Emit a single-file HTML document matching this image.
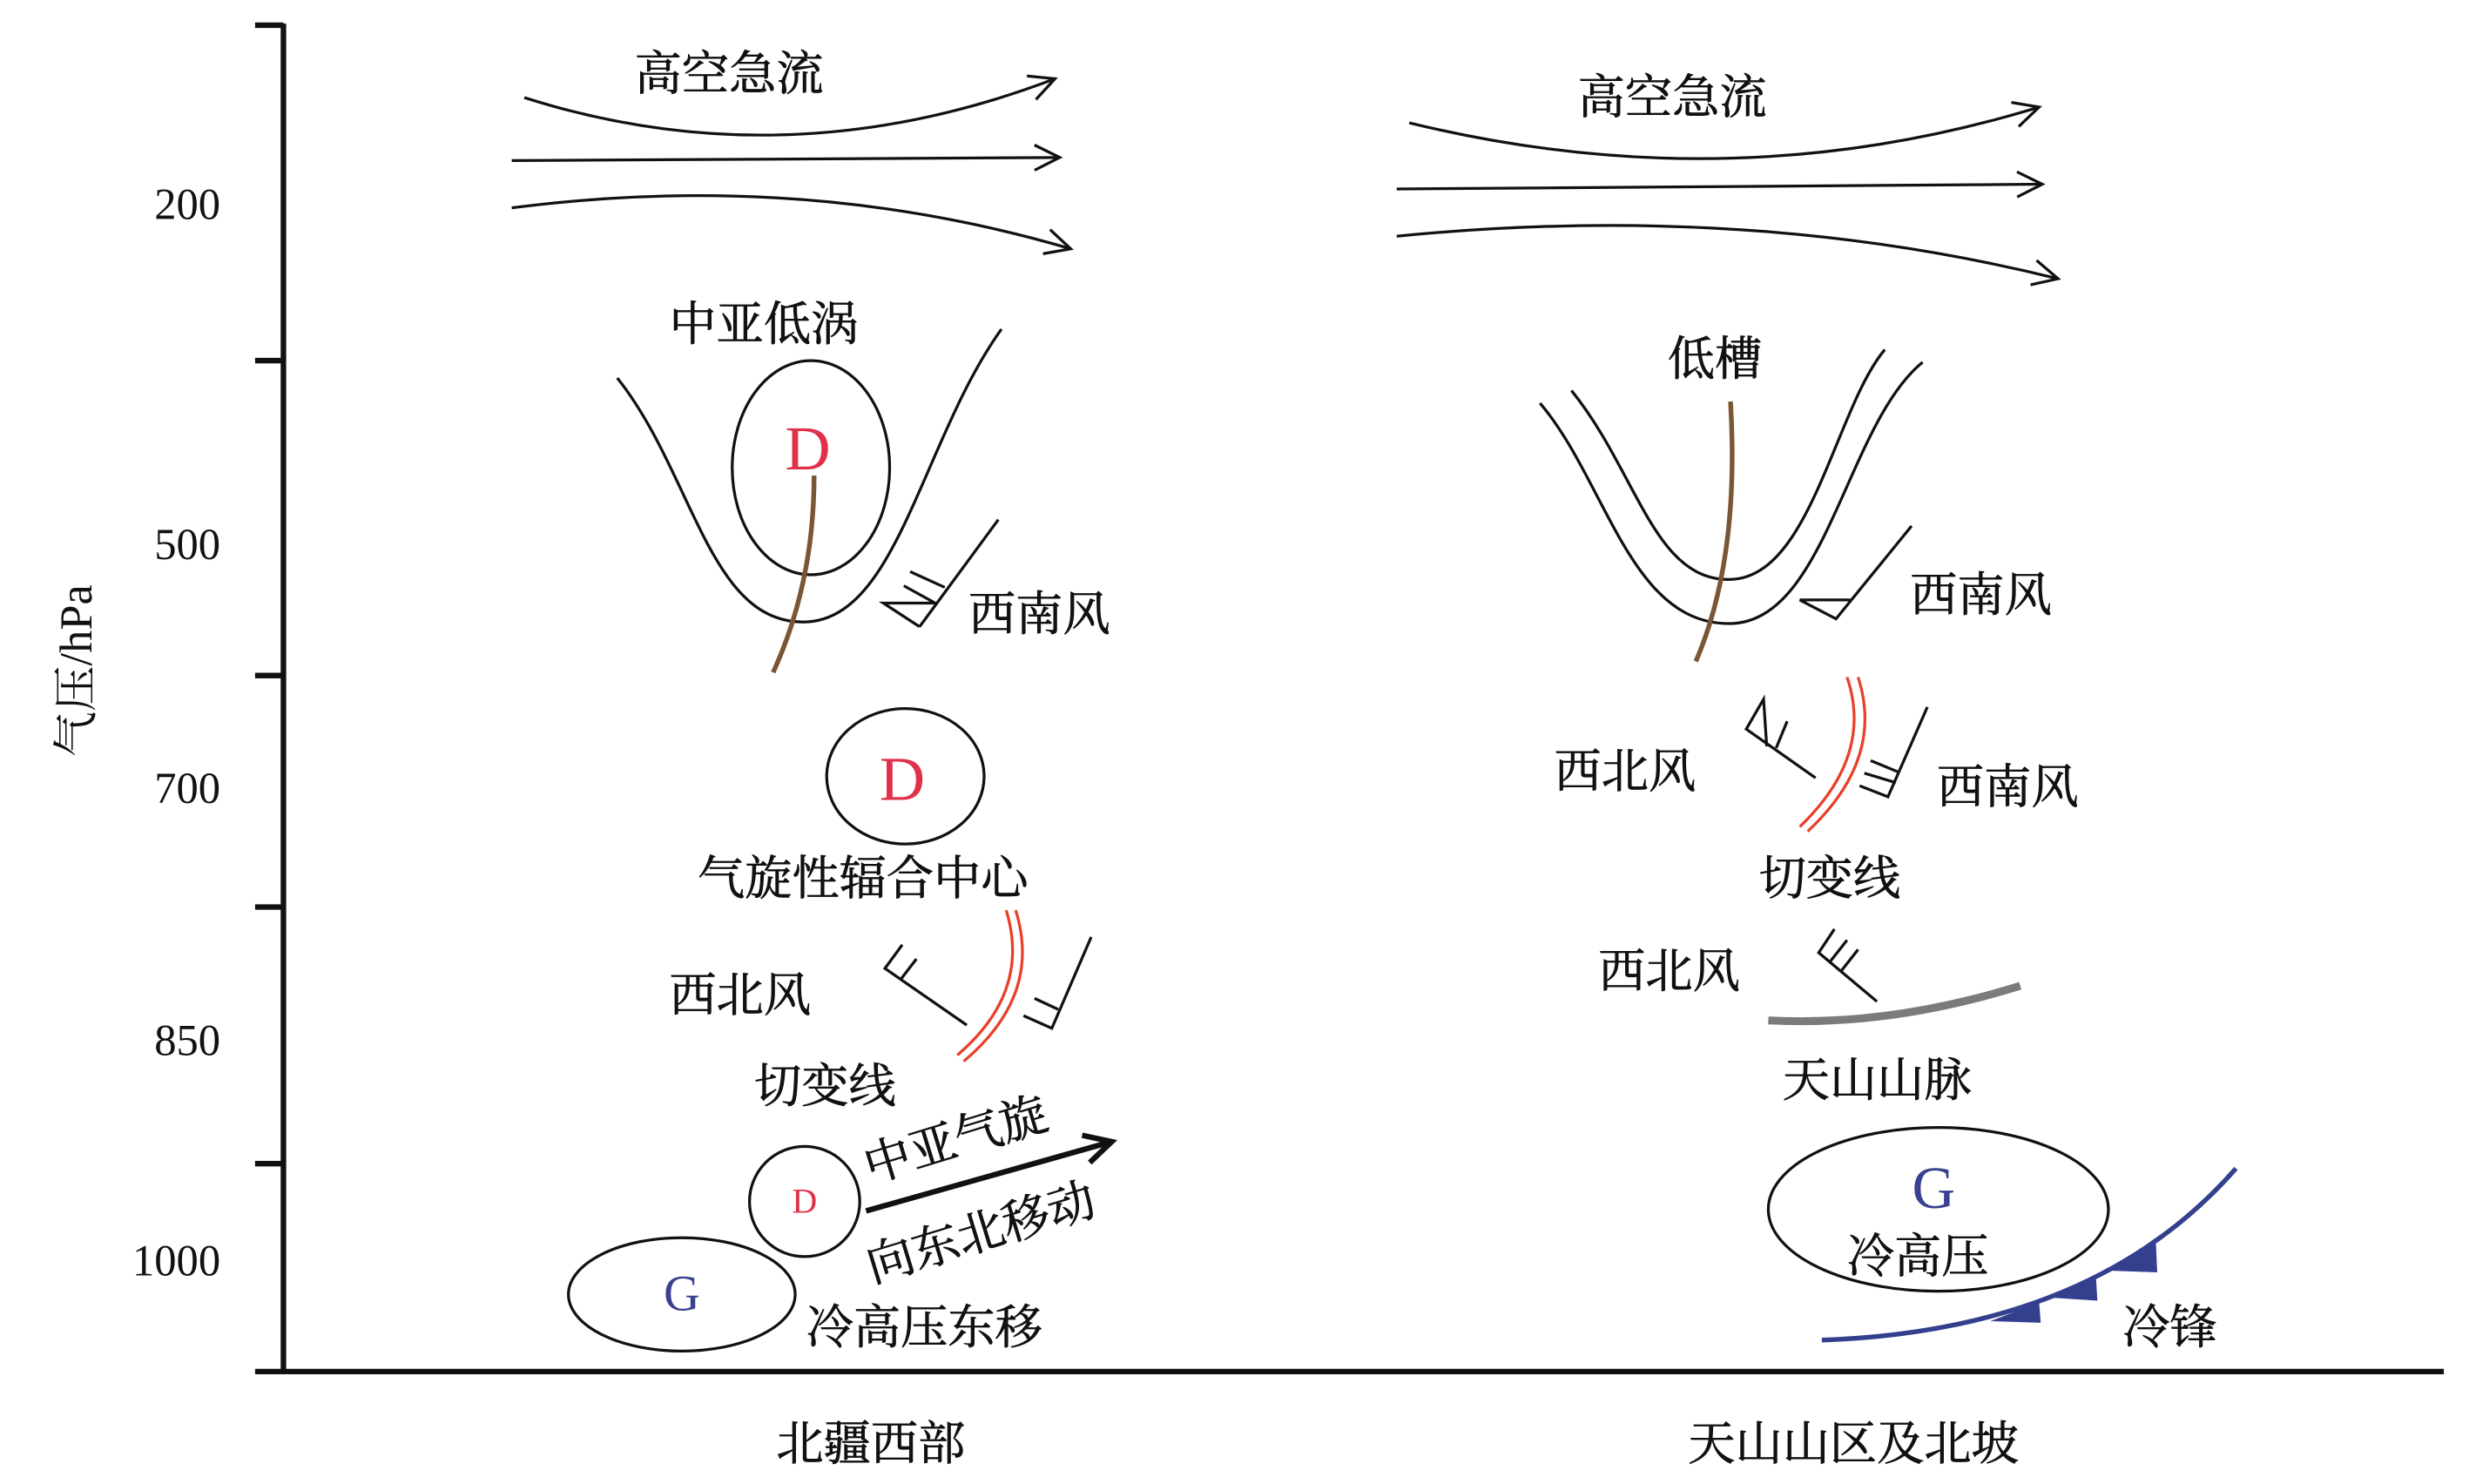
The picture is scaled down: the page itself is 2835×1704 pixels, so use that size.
<!DOCTYPE html>
<html><head><meta charset="utf-8"><style>
html,body{margin:0;padding:0;background:#fff;}
svg{display:block;}
text{font-family:"Liberation Serif","Noto Serif CJK SC","Noto Sans CJK SC",serif;fill:#111;}
.cn{font-size:30px;text-anchor:middle;stroke:#111;stroke-width:0.4;}
.num{font-size:28px;text-anchor:end;}
</style></head><body>
<svg width="2835" height="1704" viewBox="0 0 1568 942.4" preserveAspectRatio="none" xmlns="http://www.w3.org/2000/svg">
<defs>
<marker id="ah" markerWidth="20" markerHeight="20" refX="18" refY="10" orient="auto" markerUnits="userSpaceOnUse">
<path d="M2,2 L18,10 L2,18" fill="none" stroke="#111" stroke-width="1.8"/>
</marker>
<marker id="ah2" markerWidth="24" markerHeight="24" refX="20" refY="12" orient="auto" markerUnits="userSpaceOnUse">
<path d="M3,3 L20,12 L3,21" fill="none" stroke="#111" stroke-width="3.5"/>
</marker>
</defs>
<g stroke="#111" stroke-width="3.5" fill="none">
<line x1="180" y1="15" x2="180" y2="871"/>
<line x1="162" y1="871" x2="1552" y2="871"/>
<line x1="162" y1="16" x2="180" y2="16"/>
<line x1="162" y1="229" x2="180" y2="229"/>
<line x1="162" y1="429" x2="180" y2="429"/>
<line x1="162" y1="576" x2="180" y2="576"/>
<line x1="162" y1="739" x2="180" y2="739"/>
</g>
<text class="num" x="140" y="139">200</text>
<text class="num" x="140" y="355">500</text>
<text class="num" x="140" y="510">700</text>
<text class="num" x="140" y="810">1000</text>
<text class="num" x="140" y="670">850</text>
<text x="58" y="426" font-size="29" text-anchor="middle" transform="rotate(-90 58 426)">气压/hPa</text>

<g stroke="#111" stroke-width="1.8" fill="none">
<path d="M333,62 Q500,115 670,50" marker-end="url(#ah)"/>
<path d="M325,102 L673,100" marker-end="url(#ah)"/>
<path d="M325,132 Q510,108 680,158" marker-end="url(#ah)"/>
<path d="M392,240 C440,300 450,395 510,395 C570,395 585,280 636,209"/>
<ellipse cx="515" cy="297" rx="50" ry="68"/>
<ellipse cx="575" cy="493" rx="50" ry="43"/>
<circle cx="511" cy="763" r="35"/>
<ellipse cx="433" cy="822" rx="72" ry="36"/>
<line x1="634" y1="330" x2="584" y2="398"/>
<polyline points="594,383 561,383 584,398"/>
<line x1="578" y1="363" x2="600" y2="373"/>
<line x1="574" y1="372" x2="594" y2="383"/>
<polyline points="573,600 562,615 614,651"/>
<line x1="572" y1="622" x2="582" y2="609"/>
<polyline points="693,595 668,653 650,645"/>
<line x1="657" y1="634" x2="672" y2="641"/>
</g>
<path d="M517,302 Q517,370 491,427" stroke="#7a5634" stroke-width="3" fill="none"/>
<g stroke="#e8402a" stroke-width="1.8" fill="none">
<path d="M639,578 Q655,630 608,670"/>
<path d="M645,578 Q662,632 612,674"/>
</g>
<line x1="550" y1="769" x2="706" y2="725" stroke="#111" stroke-width="3.5" marker-end="url(#ah2)"/>
<text x="513" y="298" font-size="40" style="fill:#e0304a" text-anchor="middle">D</text>
<text x="573" y="508" font-size="40" style="fill:#e0304a" text-anchor="middle">D</text>
<text x="511" y="770" font-size="22" style="fill:#e0304a" text-anchor="middle">D</text>
<text x="433" y="832" font-size="32" style="fill:#3a4190" text-anchor="middle">G</text>
<text class="cn" x="463" y="57">高空急流</text>
<text class="cn" x="485" y="216">中亚低涡</text>
<text class="cn" x="660" y="400">西南风</text>
<text class="cn" x="548" y="568">气旋性辐合中心</text>
<text class="cn" x="470" y="642">西北风</text>
<text class="cn" x="524" y="700">切变线</text>
<text class="cn" x="607" y="734" transform="rotate(-17 607 724)">中亚气旋</text>
<text class="cn" x="623" y="793" transform="rotate(-17 623 783)">向东北移动</text>
<text class="cn" x="587" y="853">冷高压东移</text>
<text class="cn" x="553" y="927">北疆西部</text>

<g stroke="#111" stroke-width="1.8" fill="none">
<path d="M895,78 Q1100,128 1295,68" marker-end="url(#ah)"/>
<path d="M887,120 L1297,117" marker-end="url(#ah)"/>
<path d="M887,150 Q1110,128 1307,177" marker-end="url(#ah)"/>
<path d="M998,248 C1040,300 1050,368 1098,368 C1150,368 1165,260 1197,222"/>
<path d="M978,256 C1020,305 1035,396 1098,396 C1160,396 1172,270 1221,230"/>
<ellipse cx="1231" cy="768" rx="108" ry="52"/>
<polyline points="1214,334 1166,393 1143,381 1175,381"/>
<polyline points="1153,494 1109,463 1120,444 1122,474"/>
<line x1="1135" y1="458" x2="1128" y2="475"/>
<polyline points="1224,449 1199,506 1181,499"/>
<line x1="1184" y1="491" x2="1204" y2="497"/>
<line x1="1188" y1="483" x2="1205" y2="490"/>
<polyline points="1192,636 1155,605 1165,590"/>
<line x1="1162" y1="611" x2="1173" y2="597"/>
<line x1="1169" y1="617" x2="1180" y2="603"/>
</g>
<path d="M1099,255 Q1105,355 1077,420" stroke="#7a5634" stroke-width="3" fill="none"/>
<g stroke="#e8402a" stroke-width="1.8" fill="none">
<path d="M1173,430 Q1190,480 1143,525"/>
<path d="M1180,430 Q1197,482 1148,528"/>
</g>
<path d="M1123,648 Q1200,652 1283,626" stroke="#7d7a7a" stroke-width="5" fill="none"/>
<path d="M1157,851 Q1330,845 1420,742" stroke="#34408e" stroke-width="3" fill="none"/>
<g fill="#34408e">
<polygon points="1264,839 1295,827 1296,840"/>
<polygon points="1301,824 1331,810 1332,826"/>
<polygon points="1341,807 1369,786 1370,808"/>
</g>
<text x="1228" y="767" font-size="38" style="fill:#3a4190" text-anchor="middle">G</text>
<text class="cn" x="1062" y="72">高空急流</text>
<text class="cn" x="1089" y="238">低槽</text>
<text class="cn" x="1258" y="388">西南风</text>
<text class="cn" x="1032" y="500">西北风</text>
<text class="cn" x="1275" y="510">西南风</text>
<text class="cn" x="1162" y="568">切变线</text>
<text class="cn" x="1060" y="627">西北风</text>
<text class="cn" x="1192" y="696">天山山脉</text>
<text class="cn" x="1218" y="808">冷高压</text>
<text class="cn" x="1378" y="853">冷锋</text>
<text class="cn" x="1177" y="927">天山山区及北坡</text>
</svg>
</body></html>
